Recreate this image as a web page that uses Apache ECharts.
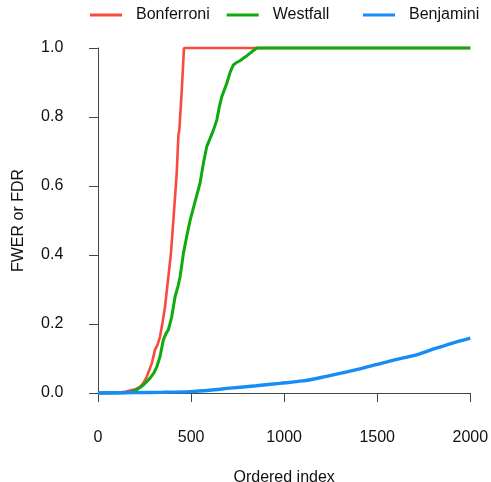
<!DOCTYPE html>
<html>
<head>
<meta charset="utf-8">
<script src="https://cdn.jsdelivr.net/npm/echarts@6/dist/echarts.min.js"></script>
<style>
html,body{margin:0;padding:0;background:#fff;}
#chart{width:491px;height:482px;}
</style>
</head>
<body>
<div id="chart"></div>
<script>
var seriesNames = ['Bonferroni', 'Westfall', 'Benjamini'];
var xTicks = [0, 500, 1000, 1500, 2000];
var yTicks = [0, 0.2, 0.4, 0.6, 0.8, 1.0];

var bonferroni = [
  [0, 0], [118, 0.001], [150, 0.004], [172, 0.007], [200, 0.011], [226, 0.018],
  [245, 0.03], [262, 0.047], [289, 0.086], [306, 0.125], [320, 0.14], [333, 0.163],
  [347, 0.205], [360, 0.25], [378, 0.337], [392, 0.406], [405, 0.501],
  [423, 0.638], [432, 0.748], [437, 0.762], [450, 0.878], [462, 1.0], [2000, 1.0]
];
var westfall = [
  [0, 0], [150, 0.001], [180, 0.004], [208, 0.009], [244, 0.023], [280, 0.043],
  [300, 0.058], [316, 0.076], [333, 0.105], [351, 0.154], [365, 0.172], [378, 0.183],
  [396, 0.221], [414, 0.279], [430, 0.31], [441, 0.337], [459, 0.405], [480, 0.463],
  [495, 0.501], [520, 0.552], [548, 0.608], [566, 0.665], [584, 0.714], [600, 0.735],
  [620, 0.762], [638, 0.791], [652, 0.83], [665, 0.859], [692, 0.898], [710, 0.93],
  [727, 0.951], [745, 0.958], [763, 0.963], [780, 0.97], [799, 0.977], [826, 0.989],
  [853, 1.0], [2000, 1.0]
];
var benjamini = [
  [0, 0], [200, 0.001], [350, 0.002], [495, 0.004], [600, 0.008], [710, 0.014],
  [850, 0.021], [978, 0.028], [1100, 0.035], [1200, 0.045], [1300, 0.057],
  [1400, 0.069], [1500, 0.083], [1600, 0.097], [1700, 0.109], [1800, 0.127],
  [1900, 0.144], [2000, 0.159]
];
var colors = ['#F84B3D', '#0FAA0F', '#168CF8'];
var legendLeft = [90, 226.7, 363];

var font = "'Liberation Sans', Arial, Helvetica, sans-serif";
var chart = echarts.init(document.getElementById('chart'));

var legends = seriesNames.map(function (n, i) {
  return {
    left: legendLeft[i], top: 7, padding: 0,
    icon: 'rect', itemWidth: 32, itemHeight: 3,
    textStyle: { fontSize: 16, color: '#111', fontFamily: font, padding: [0, 0, 0, 9] },
    data: [n]
  };
});

chart.setOption({
  animation: false,
  backgroundColor: '#ffffff',
  color: colors,
  textStyle: { fontFamily: font },
  legend: legends,
  grid: { left: 98, right: 20.7, top: 48, bottom: 89, outerBoundsMode: 'none', containLabel: false },
  xAxis: {
    type: 'value', min: xTicks[0], max: xTicks[xTicks.length - 1], interval: 500,
    offset: 13.7,
    name: 'Ordered index', nameLocation: 'middle', nameGap: 63,
    nameTextStyle: { fontSize: 16, color: '#111', fontFamily: font },
    axisLine: { show: true, lineStyle: { color: '#444', width: 1 } },
    axisTick: { show: true, length: 9, lineStyle: { color: '#444' } },
    axisLabel: { fontSize: 16, color: '#111', margin: 23, fontFamily: font,
      formatter: function (v) { return String(v); } },
    splitLine: { show: false }
  },
  yAxis: {
    type: 'value', min: yTicks[0], max: yTicks[yTicks.length - 1], interval: 0.2,
    offset: 14.7,
    name: 'FWER or FDR', nameLocation: 'middle', nameGap: 57,
    nameTextStyle: { fontSize: 16, color: '#111', fontFamily: font },
    axisLine: { show: true, lineStyle: { color: '#444', width: 1 } },
    axisTick: { show: true, length: 9, lineStyle: { color: '#444' } },
    axisLabel: { fontSize: 16, color: '#111', margin: 20, fontFamily: font,
      formatter: function (v) { return v.toFixed(1); } },
    splitLine: { show: false }
  },
  series: [
    { name: seriesNames[0], type: 'line', data: bonferroni, showSymbol: false, symbol: 'none', clip: false,
      lineStyle: { width: 2.6, color: colors[0] }, z: 2 },
    { name: seriesNames[1], type: 'line', data: westfall, showSymbol: false, symbol: 'none', clip: false,
      lineStyle: { width: 3, color: colors[1] }, z: 3 },
    { name: seriesNames[2], type: 'line', data: benjamini, showSymbol: false, symbol: 'none', clip: false,
      smooth: 0.3, lineStyle: { width: 3.4, color: colors[2] }, z: 4 }
  ]
});
</script>
</body>
</html>
